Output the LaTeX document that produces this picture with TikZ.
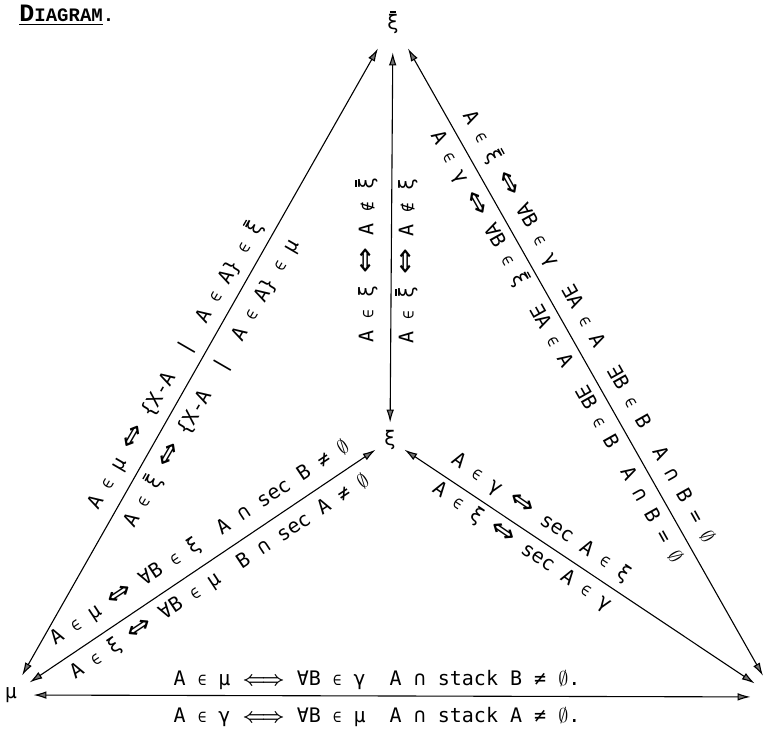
\documentclass[tikz,border=0pt]{standalone}
\usepackage{fontspec}
\usetikzlibrary{arrows.meta}
\newfontfamily\lbfont{DejaVu Sans Mono}
\newfontfamily\arfont{DejaVu Sans}
\newfontfamily\hdfont{Liberation Mono}
\newcommand{\xib}{\ooalign{ξ\cr\hidewidth\rule[0.84em]{0.32em}{0.065em}\hidewidth\cr}}
\newcommand{\el}{\scalebox{0.72}{∈}}
\newcommand{\nel}{\scalebox{0.8}{∉}}
\newcommand{\eqv}{{\arfont\scalebox{1.55}[1.25]{⇔}}}
\newcommand{\empt}{$\emptyset$}
\begin{document}
\begin{tikzpicture}[x=0.5pt,y=0.5pt,
  every node/.style={font=\lbfont\fontsize{10}{12}\selectfont},
  lbl/.style={inner sep=0pt},
  vtx/.style={circle,inner sep=0pt},
  dbl/.style={<->,>={Latex[length=6.5pt,width=3.8pt,fill=black!55]},line width=0.55pt}]
\useasboundingbox (0,0) rectangle (768,733);
% heading
\node[anchor=west,inner sep=0pt,font=\hdfont\bfseries] (title) at (19,718)
  {\underline{\fontsize{12.5}{12}\selectfont D\fontsize{9.5}{9}\selectfont IAGRAM}\fontsize{9.5}{9}\selectfont .};
% the four corners
\node[vtx,minimum size=30pt] (xibar) at (393,711) {\xib};
\node[vtx,minimum size=17pt] (xi) at (390,293) {ξ};
\node[vtx,minimum size=22pt] (mu) at (11,38) {μ};
\node[vtx,minimum size=24pt] (gam) at (775,36) {γ};
% connectors
\draw[dbl] (mu) -- (xibar);
\draw[dbl] (xibar) -- (xi);
\draw[dbl] (xibar) -- (gam);
\draw[dbl] (mu) -- (xi);
\draw[dbl] (xi) -- (gam);
\draw[dbl] (mu) -- (gam);
% left side
\node[lbl,rotate=59.9] (l1) at (176,367) {A \el{} μ \eqv{} \{X-A ~|~ A \el{} A\} \el{} \xib};
\node[lbl,rotate=59.9] (l2) at (212,349) {A \el{} \xib{} \eqv{} \{X-A ~|~ A \el{} A\} \el{} μ};
% middle
\node[lbl,rotate=90] (v1) at (368,473) {A \el{} ξ \eqv{} A \nel{} \xib};
\node[lbl,rotate=90] (v2) at (408,472) {A \el{} \xib{} \eqv{} A \nel{} ξ};
% right side
\node[lbl,rotate=-60.6] (r1) at (588,406) {A \el{} \xib{} \eqv{} ∀B \el{} γ ~∃A \el{} A ~∃B \el{} B ~A ∩ B = \empt};
\node[lbl,rotate=-60.6] (r2) at (556,386) {A \el{} γ \eqv{} ∀B \el{} \xib{} ~∃A \el{} A ~∃B \el{} B ~A ∩ B = \empt};
% inner lines
\node[lbl,rotate=33.5] (m1) at (200,190) {A \el{} μ \eqv{} ∀B \el{} ξ ~A ∩ sec B ≠ \empt};
\node[lbl,rotate=33.5] (m2) at (220,156) {A \el{} ξ \eqv{} ∀B \el{} μ ~B ∩ sec A ≠ \empt};
\node[lbl,rotate=-34.3] (g1) at (541,215) {A \el{} γ \eqv{} sec A \el{} ξ};
\node[lbl,rotate=-34.3] (g2) at (522,186) {A \el{} ξ \eqv{} sec A \el{} γ};
% bottom
\node[lbl] (b1) at (377,53) {A \el{} μ {\boldmath$\Longleftrightarrow$} ∀B \el{} γ ~A ∩ stack B ≠ \empt.};
\node[lbl] (b2) at (377,16) {A \el{} γ {\boldmath$\Longleftrightarrow$} ∀B \el{} μ ~A ∩ stack A ≠ \empt.};
\end{tikzpicture}
\end{document}
